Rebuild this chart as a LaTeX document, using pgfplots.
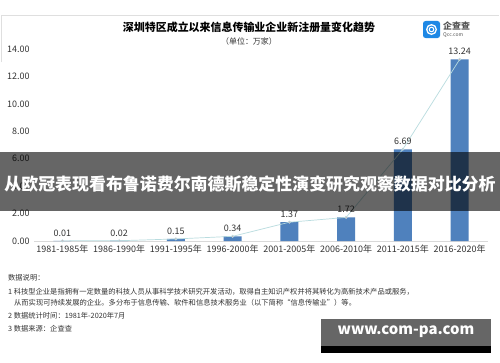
\documentclass[border=0pt]{standalone}
\usepackage{pgfplots}
\pgfplotsset{compat=1.18}
\usepackage{fontspec}
\setmainfont{Noto Sans CJK SC}
\definecolor{barblue}{HTML}{4F81BD}
\definecolor{linecol}{HTML}{B9DCDF}
\definecolor{mkpink}{HTML}{E8738A}
\definecolor{txt}{HTML}{333333}
\definecolor{logoblue}{HTML}{1E88E5}
\definecolor{wmgray}{HTML}{666666}
\begin{document}
\begin{tikzpicture}[x=1bp,y=1bp]
\path[use as bounding box, fill=white] (0,0) rectangle (500,362);
\draw[gray!25, line width=0.6bp] (1.5,300) -- (1.5,347) -- (498.5,347);
% title
\node[font=\fontsize{11}{13}\selectfont\bfseries, text=black] at (249,335) {深圳特区成立以来信息传输业企业新注册量变化趋势};
\node[font=\fontsize{8}{10}\selectfont, text=txt] at (249,321) {（单位：万家）};
% logo
\fill[logoblue, rounded corners=2.5bp] (423,324) rectangle +(17,17);
\draw[white, line width=1.3bp] (431.5,332.5) circle (4.8bp);
\draw[white, line width=1bp] (431.5,332.5) circle (2.3bp);
\node[font=\fontsize{9}{10}\selectfont\bfseries, text=gray!65!black, anchor=west, inner sep=0pt] at (443,336) {企查查};
\node[font=\fontsize{5}{6}\selectfont, text=gray!65!black, anchor=west, inner sep=0pt] at (443,326.5) {Qcc.com};
\begin{axis}[
  at={(34bp,121bp)}, anchor=south west,
  scale only axis, width=454bp, height=192bp,
  xmin=-0.5, xmax=7.5, ymin=0, ymax=14,
  axis x line*=bottom, axis y line*=left,
  y axis line style={draw=none},
  x axis line style={draw=gray!30, line width=1bp},
  major tick length=0pt,
  xtick={0,...,7},
  xticklabels={1981-1985年,1986-1990年,1991-1995年,1996-2000年,2001-2005年,2006-2010年,2011-2015年,2016-2020年},
  ytick={0,2,...,14},
  /pgf/number format/fixed, /pgf/number format/fixed zerofill, /pgf/number format/precision=2, /pgf/number format/assume math mode=true,
  ticklabel style={font=\fontsize{9}{10}\selectfont, text=txt},
  yticklabel style={xshift=-1bp},
  xticklabel style={yshift=-0.5bp},
  clip=false,
]
\addplot[ybar, bar width=18bp, fill=barblue, draw=none,
  nodes near coords, nodes near coords style={font=\fontsize{9}{10}\selectfont, text=txt, yshift=1bp}]
 coordinates {(0,0.01) (1,0.02) (2,0.15) (3,0.34) (4,1.37) (5,1.72) (6,6.69) (7,13.24)};
\addplot[linecol, line width=0.7bp, mark=*, mark size=1.1bp, mark options={fill=mkpink, draw=none}]
 coordinates {(0,0.01) (1,0.02) (2,0.15) (3,0.34) (4,1.37) (5,1.72) (6,6.69) (7,13.24)};
\end{axis}
% notes
\begin{scope}[every node/.style={anchor=west, font=\fontsize{7.3}{8}\selectfont, text=txt, inner sep=0pt}]
\node at (8,84) {数据说明：};
\node at (8,70) {1 科技型企业是指拥有一定数量的科技人员从事科学技术研究开发活动，取得自主知识产权并将其转化为高新技术产品或服务，};
\node at (14,59) {从而实现可持续发展的企业。多分布于信息传输、软件和信息技术服务业（以下简称“信息传输业”）等。};
\node at (8,46) {2 数据统计时间：1981年-2020年7月};
\node at (8,33) {3 数据来源：企查查};
\end{scope}
% banner overlay
\fill[black, opacity=0.6] (0,151) rectangle (500,210);
\node[font=\fontsize{17}{19}\selectfont\bfseries, text=white] at (250,178) {从欧冠表现看布鲁诺费尔南德斯稳定性演变研究观察数据对比分析};
% watermark
\fill[wmgray] (321,16) rectangle (491,43);
\fill[black] (321,9) rectangle (491,16);
\node[font=\fontsize{15}{17}\selectfont\bfseries, text=white] at (406,30) {www.com-pa.com};
\end{tikzpicture}
\end{document}
